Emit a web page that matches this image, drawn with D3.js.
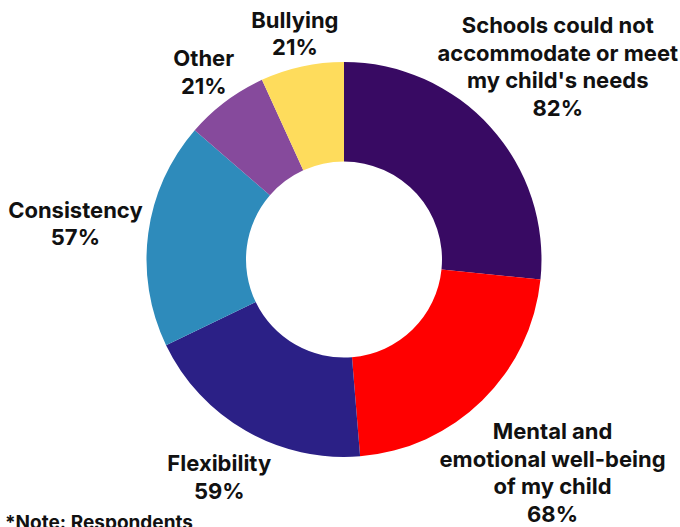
<!DOCTYPE html>
<html><head><meta charset="utf-8">
<script src="https://cdn.jsdelivr.net/npm/d3@7"></script>
<style>
html,body{margin:0;padding:0;background:#fff;}
svg{display:block;}
text{font-family:Inter,"Noto Sans",sans-serif;font-weight:700;fill:#111;}
</style></head>
<body>
<svg id="chart" width="680" height="527"></svg>
<script>
// Data
const categories = [
  ["Schools could not", "accommodate or meet", "my child's needs"],
  ["Mental and", "emotional well-being", "of my child"],
  ["Flexibility"],
  ["Consistency"],
  ["Other"],
  ["Bullying"]
];
const values = [82, 68, 59, 57, 21, 21];
const valueLabels = ["82%", "68%", "59%", "57%", "21%", "21%"];
const colors = ["#380a63", "#ff0000", "#2b2086", "#2e8bbb", "#864a9c", "#fedc5c"];
// label distance from centre (layout config)
const labelDist = [288, 298, 251, 271, 234, 231];

const svg = d3.select("#chart");
const cx = 344, cy = 259.5, R = 197.5, r0 = 98;
const g = svg.append("g").attr("transform", `translate(${cx},${cy})`);

const pie = d3.pie().value(d => d).sort(null);
const arcs = pie(values);
const arc = d3.arc().innerRadius(r0).outerRadius(R);

g.selectAll("path").data(arcs).enter().append("path")
  .attr("d", arc)
  .attr("fill", (d, i) => colors[i]);

const lh = 27.5;
arcs.forEach((d, i) => {
  const a = (d.startAngle + d.endAngle) / 2;
  const x = Math.sin(a) * labelDist[i];
  const y = -Math.cos(a) * labelDist[i];
  const lines = categories[i].concat([valueLabels[i]]);
  const t = g.append("text")
    .attr("text-anchor", "middle")
    .style("font-size", "22px");
  lines.forEach((ln, j) => {
    t.append("tspan")
      .attr("x", x)
      .attr("y", y + (j - (lines.length - 1) / 2) * lh)
      .attr("dy", "0.36em")
      .text(ln);
  });
});

svg.append("text")
  .attr("x", 5).attr("y", 529)
  .style("font-size", "19px")
  .text("*Note: Respondents");
</script>
</body></html>
